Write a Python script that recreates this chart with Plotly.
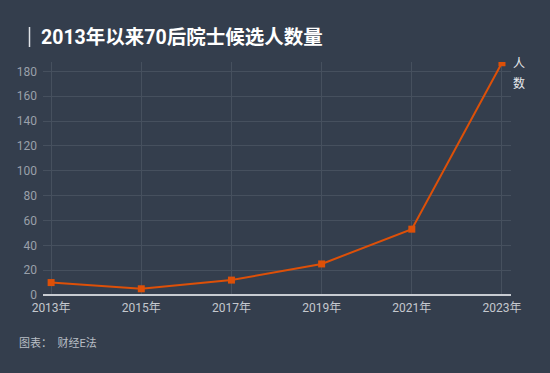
import plotly.graph_objects as go

years = [2013, 2015, 2017, 2019, 2021, 2023]
tick_labels = ["2013年", "2015年", "2017年", "2019年", "2021年", "2023年"]
counts = [10, 5, 12, 25, 53, 187]
y_ticks = [0, 20, 40, 60, 80, 100, 120, 140, 160, 180]

title_text = "2013年以来70后院士候选人数量"
source_text = "图表：  财经E法"
unit_chars = ["人", "数"]

BG = "#343e4d"
GRID = "#46505e"
FONT = "Roboto, 'Noto Sans CJK SC', sans-serif"

L, T, PW, PH = 43, 62, 468, 233


def px(x):
    return (x - L) / PW


def py(y):
    return (T + PH - y) / PH


fig = go.Figure()
fig.add_trace(go.Scatter(
    x=years, y=counts, mode="lines+markers",
    line=dict(color="#dd5008", width=2),
    marker=dict(symbol="square", size=7, color="#dd5008"),
    hoverinfo="x+y",
))

annotations = [
    dict(text="<b>" + title_text + "</b>", xref="paper", yref="paper",
         x=px(39), y=py(37), xanchor="left", yanchor="middle",
         showarrow=False, font=dict(size=19.5, color="#ffffff", family=FONT)),
    dict(text=source_text, xref="paper", yref="paper",
         x=px(17), y=py(343), xanchor="left", yanchor="middle",
         showarrow=False, font=dict(size=11, color="#b9bec6", family=FONT)),
]
for i, ch in enumerate(unit_chars):
    annotations.append(dict(
        text=ch, xref="paper", yref="paper", x=px(511), y=py(64 + 19 * i),
        xanchor="left", yanchor="middle", showarrow=False,
        font=dict(size=12, color="#e8eaed", family=FONT)))

fig.update_layout(
    width=550, height=373,
    paper_bgcolor=BG, plot_bgcolor=BG,
    margin=dict(l=L, r=550 - L - PW, t=T, b=373 - T - PH),
    showlegend=False,
    font=dict(family=FONT, color="#b9bec6", size=12),
    xaxis=dict(
        range=[2012.82, 2023.2], tickvals=years, ticktext=tick_labels,
        showgrid=True, gridcolor=GRID, gridwidth=1, zeroline=False,
        showline=False, ticks="", tickfont=dict(size=12, color="#c4c8ce"),
        ticklabelstandoff=4, fixedrange=True,
    ),
    yaxis=dict(
        range=[0, 187.6], tickvals=y_ticks, showgrid=True, gridcolor=GRID,
        gridwidth=1, zeroline=True, zerolinecolor="#c8ccd2", zerolinewidth=2,
        ticks="", tickfont=dict(size=12, color="#9aa0aa"), ticklabelstandoff=5,
        fixedrange=True,
    ),
    shapes=[dict(type="line", xref="paper", yref="paper",
                 x0=px(29.5), x1=px(29.5), y0=py(27), y1=py(47),
                 line=dict(color="#dfe2e6", width=1.5))],
    annotations=annotations,
)

fig.write_html("out.html", post_script="document.body.style.margin='0';",
               config={"displayModeBar": False})
